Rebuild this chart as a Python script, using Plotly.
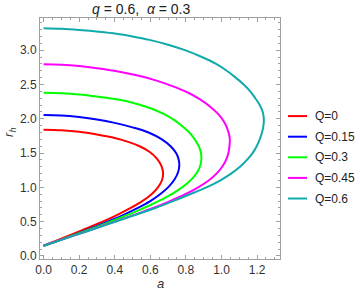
import plotly.graph_objects as go

# Q values / labels
q_labels = ["Q=0", "Q=0.15", "Q=0.3", "Q=0.45", "Q=0.6"]
colors = ["#FF0000", "#0000FF", "#00FF00", "#FF00FF", "#11AAAA"]

r_Q0 = [1.84, 1.832, 1.81, 1.77, 1.72, 1.66, 1.60, 1.52, 1.42, 1.31, 1.205,
        1.10, 1.00, 0.90, 0.80, 0.70, 0.60, 0.50, 0.40, 0.30, 0.22, 0.15]
a_Q0 = [0, 0.1, 0.2, 0.3, 0.4, 0.48, 0.54, 0.595, 0.637, 0.663, 0.672,
        0.665, 0.643, 0.607, 0.555, 0.49, 0.415, 0.332, 0.24, 0.145, 0.068, 0]

r_Q015 = [2.055, 2.048, 2.025, 1.99, 1.94, 1.875, 1.80, 1.70, 1.60, 1.50, 1.41, 1.32,
          1.22, 1.11, 1.00, 0.90, 0.80, 0.70, 0.60, 0.50, 0.40, 0.30, 0.22, 0.15]
a_Q015 = [0, 0.1, 0.2, 0.3, 0.4, 0.5, 0.59, 0.665, 0.714, 0.745, 0.759, 0.763,
          0.756, 0.735, 0.70, 0.655, 0.60, 0.53, 0.45, 0.36, 0.265, 0.165, 0.08, 0]

r_Q03 = [2.38, 2.373, 2.355, 2.325, 2.28, 2.22, 2.15, 2.07, 1.98, 1.88, 1.77, 1.65, 1.55, 1.45,
         1.35, 1.25, 1.15, 1.05, 0.95, 0.85, 0.75, 0.65, 0.55, 0.45, 0.35, 0.25, 0.15]
a_Q03 = [0, 0.1, 0.2, 0.3, 0.42, 0.52, 0.605, 0.675, 0.735, 0.785, 0.83, 0.862, 0.88, 0.887,
         0.884, 0.87, 0.843, 0.803, 0.75, 0.685, 0.607, 0.52, 0.425, 0.325, 0.22, 0.11, 0]

r_Q045 = [2.794, 2.787, 2.768, 2.738, 2.69, 2.63, 2.56, 2.48, 2.39, 2.29, 2.18, 2.06, 1.93, 1.80, 1.70,
          1.60, 1.50, 1.40, 1.30, 1.20, 1.10, 1.00, 0.90, 0.80, 0.70, 0.60, 0.50, 0.40, 0.30, 0.22, 0.15]
a_Q045 = [0, 0.1, 0.2, 0.3, 0.42, 0.53, 0.63, 0.72, 0.805, 0.875, 0.935, 0.985, 1.02, 1.04, 1.047,
          1.045, 1.039, 1.026, 1.004, 0.972, 0.928, 0.869, 0.797, 0.711, 0.616, 0.51, 0.40, 0.288, 0.173, 0.08, 0]

r_Q06 = [3.32, 3.312, 3.295, 3.27, 3.24, 3.20, 3.15, 3.08, 3.00, 2.90, 2.80, 2.70, 2.60, 2.50, 2.40,
         2.30, 2.20, 2.10, 2.00, 1.90, 1.80, 1.70, 1.60, 1.50, 1.40, 1.30, 1.20, 1.10, 1.00, 0.90,
         0.80, 0.70, 0.60, 0.50, 0.40, 0.30, 0.22, 0.145]
a_Q06 = [0, 0.1, 0.2, 0.31, 0.41, 0.50, 0.595, 0.70, 0.795, 0.89, 0.97, 1.03, 1.08, 1.125, 1.162,
         1.19, 1.215, 1.232, 1.238, 1.236, 1.228, 1.215, 1.198, 1.175, 1.143, 1.104, 1.054, 0.992, 0.915, 0.823,
         0.728, 0.628, 0.518, 0.403, 0.29, 0.175, 0.085, 0]

x_ticks = [0.0, 0.2, 0.4, 0.6, 0.8, 1.0, 1.2]
y_ticks = [0.0, 0.5, 1.0, 1.5, 2.0, 2.5, 3.0]

curves = [(a_Q0, r_Q0), (a_Q015, r_Q015), (a_Q03, r_Q03), (a_Q045, r_Q045), (a_Q06, r_Q06)]

FONT = "Liberation Sans, Arial, sans-serif"
fig = go.Figure()
for (a, r), lab, c in zip(curves, q_labels, colors):
    fig.add_trace(go.Scatter(x=a, y=r, mode="lines", name=lab,
                             line=dict(color=c, width=2, shape="spline", smoothing=1.0),
                             showlegend=False, hoverinfo="skip"))

axis_common = dict(showgrid=False, zeroline=False, showline=True, linecolor="#A0A0A0",
                   linewidth=1, mirror="ticks", ticks="inside", ticklen=4,
                   tickcolor="#A0A0A0", tickfont=dict(family=FONT, size=12, color="#333333"))

fig.update_xaxes(range=[-0.02, 1.329], tickvals=x_ticks,
                 ticktext=[f"{v:.1f}" for v in x_ticks],
                 minor=dict(ticks="inside", ticklen=2, dtick=0.05, tick0=0, tickcolor="#A0A0A0"),
                 **axis_common)
fig.update_yaxes(range=[-0.044, 3.469], tickvals=y_ticks,
                 ticktext=[f"{v:.1f}" for v in y_ticks],
                 minor=dict(ticks="inside", ticklen=2, dtick=0.1, tick0=0, tickcolor="#A0A0A0"),
                 **axis_common)

annotations = [
    dict(text="<i>q</i> = 0.6,\u00a0\u00a0<i>α</i> = 0.3", x=0.421, y=1.039, xref="paper", yref="paper",
         showarrow=False, xanchor="center", yanchor="middle", font=dict(family=FONT, size=14, color="#222222")),
    dict(text="<i>a</i>", x=0.5, y=-0.0996, xref="paper", yref="paper", showarrow=False,
         xanchor="center", yanchor="middle", font=dict(family=FONT, size=13, color="#333333")),
    dict(text="<i>r</i><sub><i>h</i></sub>", x=-0.125, y=0.523, xref="paper", yref="paper",
         showarrow=False, textangle=-90, xanchor="center", yanchor="middle",
         font=dict(family=FONT, size=13, color="#333333")),
]
shapes = []
for i, (lab, c) in enumerate(zip(q_labels, colors)):
    yp = 0.593 - i * 0.0855
    shapes.append(dict(type="line", xref="paper", yref="paper", x0=1.0333, x1=1.1125, y0=yp, y1=yp,
                       line=dict(color=c, width=2)))
    annotations.append(dict(text=lab, x=1.1375, y=yp, xref="paper", yref="paper", showarrow=False,
                            xanchor="left", yanchor="middle", font=dict(family=FONT, size=12, color="#222222")))

fig.update_layout(width=360, height=300, margin=dict(l=40, r=80, t=18, b=41),
                  plot_bgcolor="white", paper_bgcolor="white", hovermode=False,
                  annotations=annotations, shapes=shapes)
fig.write_html("out.html", config={"displayModeBar": False, "staticPlot": True},
               post_script="document.body.style.margin='0';document.body.style.padding='0';")
